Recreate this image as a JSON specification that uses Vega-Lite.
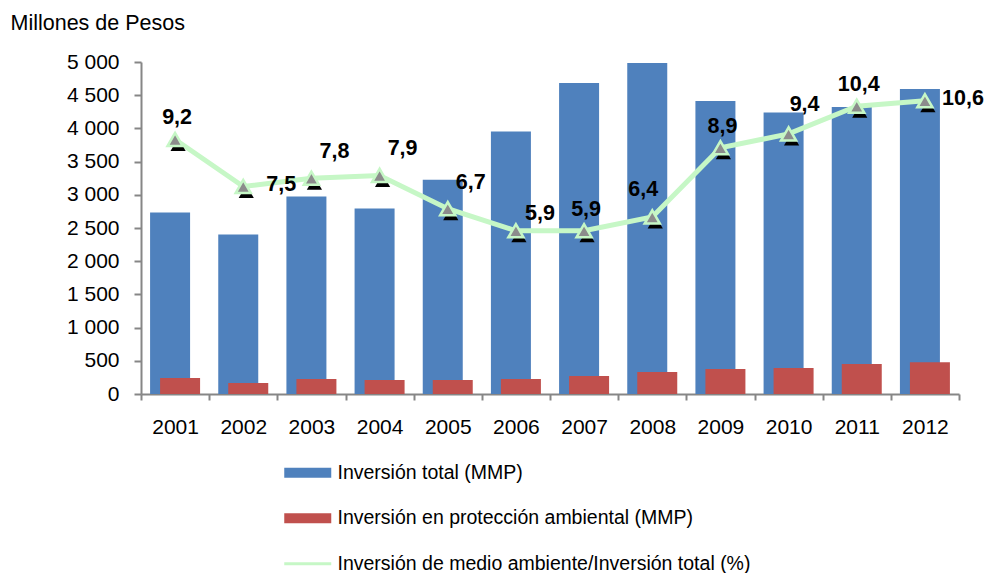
{
  "$schema": "https://vega.github.io/schema/vega-lite/v6.json",
  "width": 818,
  "height": 332,
  "autosize": {"type": "none"},
  "padding": {"left": 141, "top": 62, "right": 29, "bottom": 179},
  "background": "white",
  "config": {
    "locale": {"number": {"decimal": ",", "thousands": " ", "grouping": [3], "currency": ["", ""]}},
    "view": {"stroke": null},
    "font": "Liberation Sans",
    "axis": {"labelFont": "Liberation Sans", "labelColor": "#000000", "labelFontSize": 21, "domainColor": "#868686", "tickColor": "#868686", "grid": false}
  },
  "data": {
    "values": [
      {"year": "2001", "total": 2733, "proteccion": 240, "pct": 9.2},
      {"year": "2002", "total": 2402, "proteccion": 165, "pct": 7.5},
      {"year": "2003", "total": 2973, "proteccion": 225, "pct": 7.8},
      {"year": "2004", "total": 2793, "proteccion": 212, "pct": 7.9},
      {"year": "2005", "total": 3228, "proteccion": 212, "pct": 6.7},
      {"year": "2006", "total": 3953, "proteccion": 225, "pct": 5.9},
      {"year": "2007", "total": 4685, "proteccion": 272, "pct": 5.9},
      {"year": "2008", "total": 4985, "proteccion": 330, "pct": 6.4},
      {"year": "2009", "total": 4414, "proteccion": 375, "pct": 8.9},
      {"year": "2010", "total": 4239, "proteccion": 390, "pct": 9.4},
      {"year": "2011", "total": 4324, "proteccion": 450, "pct": 10.4},
      {"year": "2012", "total": 4595, "proteccion": 480, "pct": 10.6}
    ]
  },
  "encoding": {
    "x": {
      "field": "year", "type": "ordinal", "title": null,
      "scale": {"paddingInner": 0, "paddingOuter": 0},
      "axis": {"labelAngle": 0, "tickBand": "extent", "tickSize": 6, "domainWidth": 2, "tickWidth": 2, "labelPadding": 16}
    }
  },
  "layer": [
    {
      "encoding": {
        "y": {
          "type": "quantitative",
          "scale": {"domain": [0, 5000], "nice": false},
          "axis": {
            "title": "Millones de Pesos", "titleAngle": 0, "titleAlign": "left", "titleBaseline": "alphabetic",
            "titleX": -131, "titleY": -33, "titleFont": "Liberation Sans", "titleFontSize": 21.5, "titleFontWeight": "normal", "titleColor": "#000000",
            "values": [0, 500, 1000, 1500, 2000, 2500, 3000, 3500, 4000, 4500, 5000],
            "format": ",.0f", "tickSize": 7, "domainWidth": 2, "tickWidth": 2, "labelPadding": 15
          }
        }
      },
      "layer": [
        {
          "mark": {"type": "bar", "width": 40, "xOffset": -5},
          "encoding": {
            "y": {"field": "total"},
            "color": {
              "datum": "Inversión total (MMP)",
              "scale": {
                "domain": ["Inversión total (MMP)", "Inversión en protección ambiental (MMP)", "Inversión de medio ambiente/Inversión total (%)"],
                "range": ["#4F81BD", "#C0504D", "#C6F7C6"]
              },
              "legend": {
                "title": null, "orient": "none", "legendX": 157, "legendY": 401, "direction": "vertical",
                "padding": 0, "symbolSize": 100, "labelOffset": 20, "rowPadding": 24.5,
                "labelFont": "Liberation Sans", "labelFontSize": 19.5, "labelColor": "#000000", "labelLimit": 800,
                "encode": {
                  "symbols": {
                    "update": {
                      "shape": {"signal": "indexof(datum.value, '%') >= 0 ? 'M-4.7,-0.3H4.7V0.3H-4.7Z' : 'M-4.7,-1H4.7V1H-4.7Z'"},
                      "fill": {"signal": "scale('color', datum.value)"},
                      "fillOpacity": {"value": 1},
                      "strokeWidth": {"value": 0},
                      "opacity": {"value": 1}
                    }
                  }
                }
              }
            }
          }
        },
        {
          "mark": {"type": "bar", "width": 40, "xOffset": 5},
          "encoding": {
            "y": {"field": "proteccion"},
            "color": {"datum": "Inversión en protección ambiental (MMP)"}
          }
        }
      ]
    },
    {
      "encoding": {
        "y": {"field": "pct", "type": "quantitative", "scale": {"domain": [0, 12], "nice": false}, "axis": null}
      },
      "layer": [
        {
          "mark": {"type": "line", "strokeWidth": 5},
          "encoding": {"color": {"datum": "Inversión de medio ambiente/Inversión total (%)"}}
        },
        {
          "mark": {"type": "point", "shape": "triangle-up", "filled": true, "fill": "#000000", "opacity": 1, "size": 230, "xOffset": 3, "yOffset": 5},
          "encoding": {}
        },
        {
          "mark": {"type": "point", "shape": "triangle-up", "filled": true, "fill": "#8C8C8C", "stroke": "#C6F7C6", "strokeWidth": 2.5, "opacity": 1, "size": 230},
          "encoding": {}
        },
        {
          "transform": [{"filter": {"field": "year", "oneOf": ["2001", "2007", "2009", "2011"]}}],
          "mark": {"type": "text", "fontWeight": "bold", "fontSize": 21.5, "font": "Liberation Sans", "color": "#000000", "dx": 2, "dy": -21, "baseline": "middle"},
          "encoding": {"text": {"field": "pct", "type": "quantitative", "format": ".1f"}}
        },
        {
          "transform": [{"filter": {"field": "year", "oneOf": ["2002", "2012"]}}],
          "mark": {"type": "text", "fontWeight": "bold", "fontSize": 21.5, "font": "Liberation Sans", "color": "#000000", "dx": 38, "dy": -2, "baseline": "middle"},
          "encoding": {"text": {"field": "pct", "type": "quantitative", "format": ".1f"}}
        },
        {
          "transform": [{"filter": {"field": "year", "oneOf": ["2003", "2004", "2005"]}}],
          "mark": {"type": "text", "fontWeight": "bold", "fontSize": 21.5, "font": "Liberation Sans", "color": "#000000", "dx": 23, "dy": -26, "baseline": "middle"},
          "encoding": {"text": {"field": "pct", "type": "quantitative", "format": ".1f"}}
        },
        {
          "transform": [{"filter": {"field": "year", "oneOf": ["2006"]}}],
          "mark": {"type": "text", "fontWeight": "bold", "fontSize": 21.5, "font": "Liberation Sans", "color": "#000000", "dx": 24, "dy": -17, "baseline": "middle"},
          "encoding": {"text": {"field": "pct", "type": "quantitative", "format": ".1f"}}
        },
        {
          "transform": [{"filter": {"field": "year", "oneOf": ["2008"]}}],
          "mark": {"type": "text", "fontWeight": "bold", "fontSize": 21.5, "font": "Liberation Sans", "color": "#000000", "dx": -9, "dy": -27, "baseline": "middle"},
          "encoding": {"text": {"field": "pct", "type": "quantitative", "format": ".1f"}}
        },
        {
          "transform": [{"filter": {"field": "year", "oneOf": ["2010"]}}],
          "mark": {"type": "text", "fontWeight": "bold", "fontSize": 21.5, "font": "Liberation Sans", "color": "#000000", "dx": 16, "dy": -29, "baseline": "middle"},
          "encoding": {"text": {"field": "pct", "type": "quantitative", "format": ".1f"}}
        }
      ]
    }
  ],
  "resolve": {"scale": {"y": "independent"}}
}
